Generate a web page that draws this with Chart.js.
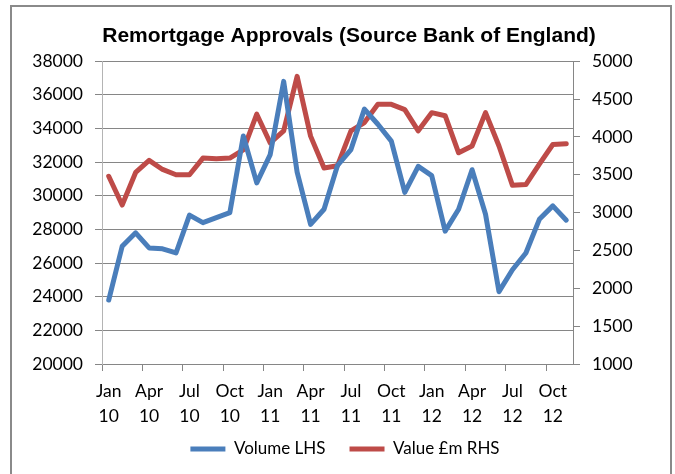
<!DOCTYPE html>
<html>
<head>
<meta charset="utf-8">
<script src="https://cdn.jsdelivr.net/npm/chart.js@4"></script>
<style>
  html, body { margin: 0; padding: 0; background: #fff; }
  canvas { display: block; }
</style>
</head>
<body>
<canvas id="chart" width="675" height="474"></canvas>
<script>
// monthly remortgage approvals, Jan 2010 .. Nov 2012
const monthNames = ['Jan', 'Feb', 'Mar', 'Apr', 'May', 'Jun', 'Jul', 'Aug', 'Sep', 'Oct', 'Nov', 'Dec'];
const years = ['10', '11', '12'];
const monthCount = 35;

const volume = [23800, 27000, 27800, 26900, 26850, 26600, 28850, 28400, 28700, 29000, 33550, 30770,
  32450, 36800, 31400, 28300, 29200, 31800, 32750, 35150, 34250, 33250, 30200, 31750,
  31200, 27900, 29200, 31550, 28900, 24300, 25600, 26600, 28600, 29400, 28550];
const valueGbp = [3480, 3100, 3530, 3690, 3570, 3500, 3500, 3720, 3710, 3720, 3830, 4300,
  3920, 4080, 4800, 4010, 3590, 3620, 4080, 4190, 4430, 4430, 4360, 4080,
  4320, 4280, 3790, 3880, 4320, 3880, 3360, 3370, 3640, 3900, 3910];

const labels = [];
for (let i = 0; i < monthCount; i++) {
  labels.push([monthNames[i % 12], years[Math.floor(i / 12)]]);
}

const axisGrey = '#868686';
const tickFont = { size: 17.5 };
const plainNumber = (v) => String(v);

// grey frame round the whole chart (open at the bottom)
const framePlugin = {
  id: 'frame',
  afterDraw(chart) {
    const ctx = chart.ctx;
    ctx.save();
    ctx.strokeStyle = '#8a8a8a';
    ctx.lineWidth = 2;
    ctx.beginPath();
    ctx.moveTo(11, 480);
    ctx.lineTo(11, 6);
    ctx.lineTo(671, 6);
    ctx.lineTo(671, 480);
    ctx.stroke();
    ctx.restore();
  }
};

// pull the legend up a little, closer to the two-line month labels
const legendNudge = {
  id: 'legendNudge',
  afterLayout(chart) {
    const lg = chart.legend;
    if (!lg) return;
    lg.top -= 8.5;
    lg.bottom -= 8.5;
    lg.left -= 4;
    lg.right -= 4;
  }
};

Chart.defaults.font.family = 'Lato, "Open Sans", sans-serif';
Chart.defaults.color = '#000';

new Chart(document.getElementById('chart'), {
  type: 'line',
  data: {
    labels: labels,
    datasets: [
      {
        label: 'Volume LHS',
        data: volume,
        yAxisID: 'y',
        borderColor: '#4a7ebb',
        backgroundColor: '#4a7ebb',
        borderWidth: 5,
        borderCapStyle: 'round',
        borderJoinStyle: 'round',
        pointRadius: 0,
        tension: 0,
        order: 1
      },
      {
        label: 'Value £m RHS',
        data: valueGbp,
        yAxisID: 'y1',
        borderColor: '#be4b48',
        backgroundColor: '#be4b48',
        borderWidth: 5,
        borderCapStyle: 'round',
        borderJoinStyle: 'round',
        pointRadius: 0,
        tension: 0,
        order: 2
      }
    ]
  },
  options: {
    responsive: false,
    devicePixelRatio: 1,
    animation: false,
    layout: { padding: { left: 23, right: 0, top: 24, bottom: -2 } },
    scales: {
      x: {
        type: 'category',
        offset: true,
        afterFit: (scale) => { scale.height = 61; },
        grid: {
          offset: true,
          drawOnChartArea: false,
          tickLength: 7,
          color: (ctx) => (ctx.index % 3 === 0 ? axisGrey : 'rgba(0,0,0,0)')
        },
        border: { color: axisGrey, width: 1 },
        ticks: {
          autoSkip: false,
          maxRotation: 0,
          padding: 8,
          font: { size: 17.5, lineHeight: 1.42 },
          callback: function (value, index) {
            return index % 3 === 0 ? this.getLabelForValue(value) : '';
          }
        }
      },
      y: {
        position: 'left',
        min: 20000,
        max: 38000,
        afterFit: (scale) => { scale.width = 79; },
        grid: { color: axisGrey, tickLength: 7 },
        border: { color: '#b4b4b4', width: 1 },
        ticks: { stepSize: 2000, padding: 12, font: tickFont, callback: plainNumber }
      },
      y1: {
        position: 'right',
        min: 1000,
        max: 5000,
        afterFit: (scale) => { scale.width = 102; },
        grid: { drawOnChartArea: false, color: axisGrey, tickLength: 7 },
        border: { color: axisGrey, width: 1 },
        ticks: { stepSize: 500, padding: 12, font: tickFont, callback: plainNumber }
      }
    },
    plugins: {
      title: {
        display: true,
        text: 'Remortgage Approvals (Source Bank of England)',
        font: { family: '"Liberation Sans", Arial, sans-serif', size: 21, weight: 'bold' },
        color: '#000',
        padding: { top: 0, bottom: 12 }
      },
      legend: {
        position: 'bottom',
        labels: {
          usePointStyle: true,
          pointStyle: 'line',
          pointStyleWidth: 35,
          padding: 24,
          font: { size: 17 },
          color: '#000'
        }
      },
      tooltip: { enabled: false }
    }
  },
  plugins: [framePlugin, legendNudge]
});
</script>
</body>
</html>
